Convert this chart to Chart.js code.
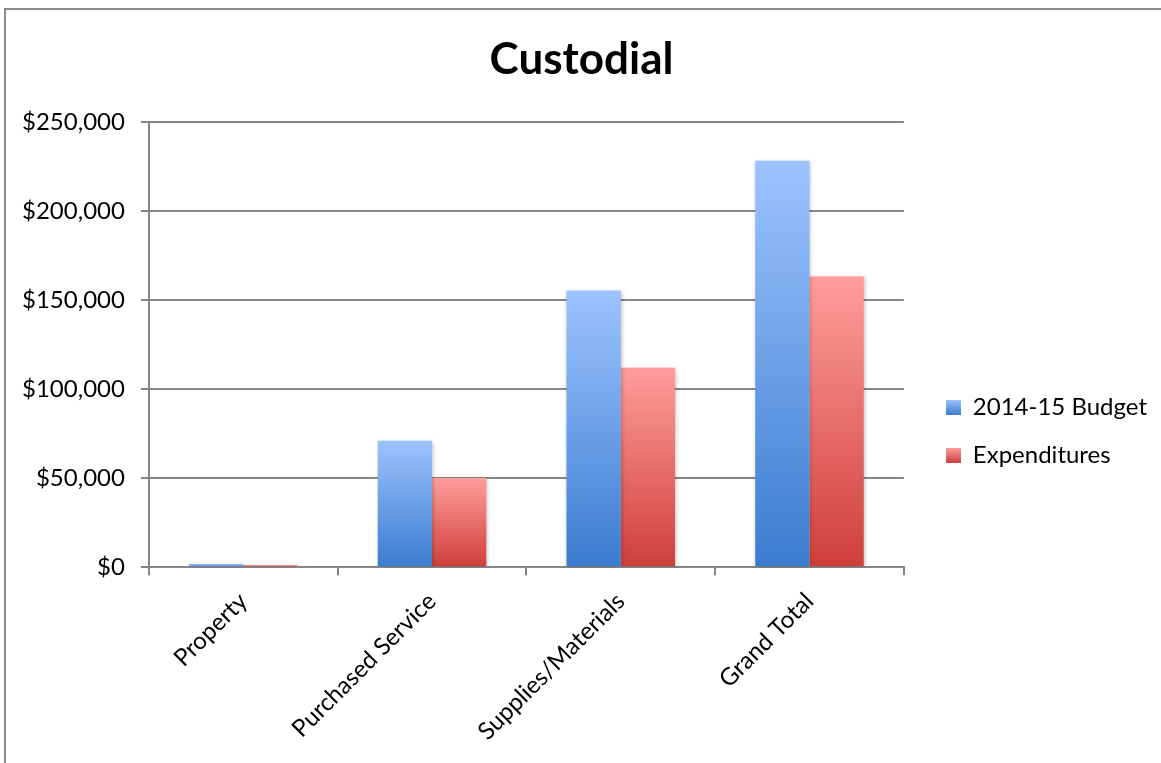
<!DOCTYPE html>
<html>
<head>
<meta charset="utf-8">
<title>Custodial</title>
<script src="https://cdn.jsdelivr.net/npm/chart.js@4.4.1/dist/chart.umd.min.js"></script>
<style>
html, body { margin: 0; padding: 0; background: #fff; overflow: hidden; }
.frame { position: absolute; left: 4px; top: 8px; width: 2000px; height: 2000px; border: 2px solid #8c8c8c; }
#chart { position: absolute; left: 0; top: 0; }
</style>
</head>
<body>
<div class="frame"></div>
<canvas id="chart" width="1161" height="763"></canvas>
<script>
const categories = ['Property', 'Purchased Service', 'Supplies/Materials', 'Grand Total'];
const budget = [1800, 71000, 155300, 228100];
const expenditures = [1200, 50000, 112000, 163200];
const seriesNames = ['2014-15 Budget', 'Expenditures'];
const yMax = 250000;
const yStep = 50000;

const blue = ['#9cc3ff', '#3b7ccf'];
const red = ['#ff9d9b', '#cf3f3a'];

// vertical gradient from the top of each bar down to zero
function barFill(colors) {
    return function(ctx){
        if(ctx.type !== 'data') return colors[1];
        let chart = ctx.chart;
        let y = chart.scales.y;
        if(!y || !chart.chartArea) return colors[1];
        let top = y.getPixelForValue(ctx.raw);
        let bottom = y.getPixelForValue(0);
        if(bottom - top < 1) top = bottom - 1;
        let g = chart.ctx.createLinearGradient(0, top, 0, bottom);
        g.addColorStop(0, colors[0]);
        g.addColorStop(1, colors[1]);
        return g;
    }
}

function swatch(colors) {
    let c = document.createElement('canvas');
    c.width = 15; c.height = 15;
    let x = c.getContext('2d');
    let g = x.createLinearGradient(0, 0, 0, 15);
    g.addColorStop(0, colors[0]);
    g.addColorStop(1, colors[1]);
    x.fillStyle = g;
    x.fillRect(0, 0, 15, 15);
    return c;
}
const swatches = [swatch(blue), swatch(red)];

let barShadow = {
    id: 'barShadow',
    beforeDatasetsDraw(chart){
        let c = chart.ctx;
        c.save();
        c.shadowColor = 'rgba(0,0,0,0.25)';
        c.shadowBlur = 4;
        c.shadowOffsetX = 1;
        c.shadowOffsetY = 1;
    },
    afterDatasetsDraw(chart){
        chart.ctx.restore();
    }
};

Chart.defaults.font.family = 'Lato, "Open Sans", sans-serif';
Chart.defaults.color = '#000';

new Chart(document.getElementById('chart'), {
    type: 'bar',
    data: {
        labels: categories,
        datasets: [{
            label: seriesNames[0],
            data: budget,
            backgroundColor: barFill(blue)
        }, {
            label: seriesNames[1],
            data: expenditures,
            backgroundColor: barFill(red)
        }]
    },
    options: {
        responsive: false,
        animation: false,
        categoryPercentage: 0.575,
        barPercentage: 1,
        layout: { padding: { left: 6, right: 4, top: 0, bottom: 5 } },
        scales: {
            x: {
                grid: { drawOnChartArea: false, offset: true, tickLength: 8, color: '#868686', lineWidth: 2 },
                border: { color: '#868686', width: 2 },
                ticks: { font: { size: 24 }, maxRotation: 45, minRotation: 45, padding: 12 }
            },
            y: {
                min: 0,
                max: yMax,
                grid: { color: '#868686', lineWidth: 2, tickLength: 8 },
                border: { color: '#868686', width: 2 },
                ticks: {
                    stepSize: yStep,
                    font: { size: 24 },
                    padding: 16,
                    callback: v => '$' + v.toLocaleString('en-US')
                }
            },
            // empty gap between the plot and the legend
            gap: {
                position: 'right',
                grid: { display: false },
                border: { display: false },
                ticks: { display: false },
                afterFit: s => { s.width = 18 }
            }
        },
        plugins: {
            title: {
                display: true,
                text: 'Custodial',
                font: { size: 44, weight: 'bold' },
                padding: { top: 33, bottom: 36 }
            },
            legend: {
                position: 'right',
                maxWidth: 400,
                title: { display: true, text: ' ', font: { size: 4 }, padding: { top: 50, bottom: 50 } },
                labels: {
                    font: { size: 24 },
                    usePointStyle: true,
                    boxWidth: 15,
                    boxHeight: 15,
                    padding: 24,
                    generateLabels(chart){
                        let items = Chart.defaults.plugins.legend.labels.generateLabels(chart);
                        items.forEach((it, i) => { it.pointStyle = swatches[i]; it.lineWidth = 0; });
                        return items;
                    }
                }
            },
            tooltip: { enabled: false }
        }
    },
    plugins: [barShadow]
});
</script>
</body>
</html>
